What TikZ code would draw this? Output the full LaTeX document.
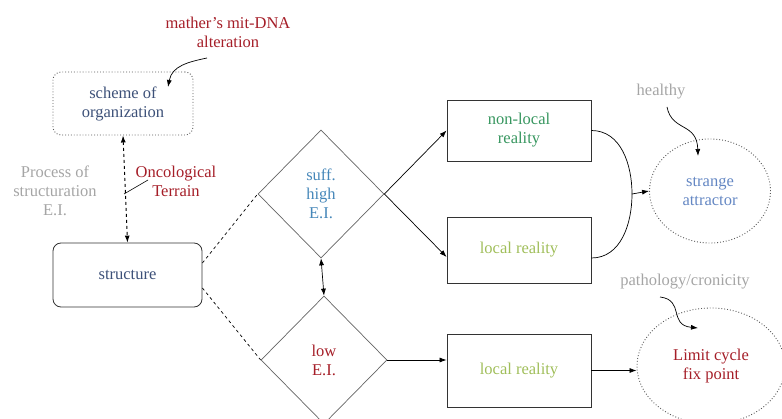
\documentclass[tikz,border=0pt]{standalone}
\usepackage{fontspec}
\setmainfont{Liberation Serif}
\usetikzlibrary{shapes.geometric,arrows.meta}
\definecolor{redtx}{RGB}{165,30,40}
\definecolor{graytx}{RGB}{165,165,165}
\definecolor{schemeblue}{RGB}{60,80,120}
\definecolor{highblue}{RGB}{70,135,185}
\definecolor{nlgreen}{RGB}{55,150,95}
\definecolor{lrgreen}{RGB}{160,190,90}
\definecolor{attblue}{RGB}{100,135,195}
\definecolor{linegray}{RGB}{100,100,100}
\begin{document}
\begin{tikzpicture}[x=1pt,y=-1pt,
  every node/.style={font=\fontsize{16.5}{19}\selectfont, align=center, inner sep=1pt},
  dotbox/.style={draw=black!65, dotted, line width=0.9pt, rounded corners=8pt},
  solidbox/.style={draw=black!80, line width=0.8pt},
  dia/.style={draw=linegray, line width=0.7pt, diamond, minimum width=126pt, minimum height=128pt, inner sep=0pt},
  ell/.style={draw=black!65, dotted, line width=0.9pt, ellipse},
  arr/.style={-{Latex[length=7pt,width=5pt]}, line width=0.7pt},
  darr/.style={{Latex[length=7pt,width=5pt]}-{Latex[length=7pt,width=5pt]}, line width=0.7pt},
  curvy/.style={-{Latex[length=7pt,width=5pt]}, line width=0.7pt}
]
\useasboundingbox (0,0) rectangle (782,419);

% left column
\node[dotbox, minimum width=140pt, minimum height=63pt, text=schemeblue] (sch) at (123,103.5) {scheme of\\organization};
\node[text=redtx] (mat) at (228,32) {mather’s mit-DNA\\alteration};
\coordinate (matS) at (207,58);
\draw[curvy] (matS) .. controls (188,62) and (172,66) .. (168,87);

\node[text=graytx] (proc) at (55,191) {Process of\\structuration\\E.I.};
\node[text=redtx] (onc) at (176,181) {Oncological\\Terrain};

\node[solidbox, rounded corners=8pt, minimum width=149pt, minimum height=64pt, text=schemeblue] (st) at (127.5,275) {structure};

\draw[darr, dashed, line width=0.9pt] (sch.south) -- (st.north);
\coordinate (oncA) at (124,194);
\coordinate (oncB) at (148,180);
\draw[line width=0.6pt] (oncA) -- (oncB);

% diamonds
\node[dia, text=highblue] (d1) at (321,194) {suff.\\high\\E.I.};
\node[dia, text=redtx] (d2) at (324,360) {low\\E.I.};

\draw[dashed, line width=0.7pt] ([yshift=12pt]st.east) -- (d1.west);
\draw[dashed, line width=0.7pt] ([yshift=-13pt]st.east) -- (d2.west);
\draw[darr] (d1.south) -- (d2.north);

% boxes
\node[solidbox, minimum width=144pt, minimum height=61pt, text=nlgreen] (nl) at (519,130.5) {non-local\\reality};
\node[solidbox, minimum width=144pt, minimum height=66pt, text=lrgreen] (lr1) at (519,250) {local reality};
\node[solidbox, minimum width=144pt, minimum height=73pt, text=lrgreen] (lr2) at (519,370.5) {local reality};

\draw[arr] (d1.east) -- (nl.west);
\draw[arr] (d1.east) -- ([yshift=-7pt]lr1.west);
\draw[arr] (d2.east) -- (d2.east -| lr2.west);

% ellipses
\node[ell, minimum width=121pt, minimum height=104pt, text=attblue] (sa) at (710,191) {strange\\attractor};
\node[ell, minimum width=148pt, minimum height=116pt, text=redtx] (lc) at (711,366) {Limit cycle\\fix point};

\coordinate (j) at (632,194);
\draw[line width=0.7pt] (nl.east) to[out=0,in=90] (j);
\draw[line width=0.7pt] ([yshift=-8pt]lr1.east) to[out=0,in=-90] (j);
\draw[arr] (j) -- (sa.west);
\draw[arr] (lr2.east) -- (lr2.east -| lc.west);

% annotations
\node[text=graytx] (hl) at (661,92) {healthy};
\coordinate (hlS) at (667,107);
\draw[curvy] (hlS) .. controls (672,132) and (697,122) .. (698,156);

\node[text=graytx] (pc) at (685,282) {pathology/cronicity};
\coordinate (pcS) at (660,297);
\draw[curvy] (pcS) .. controls (685,300) and (668,325) .. (698,328);
\end{tikzpicture}
\end{document}
